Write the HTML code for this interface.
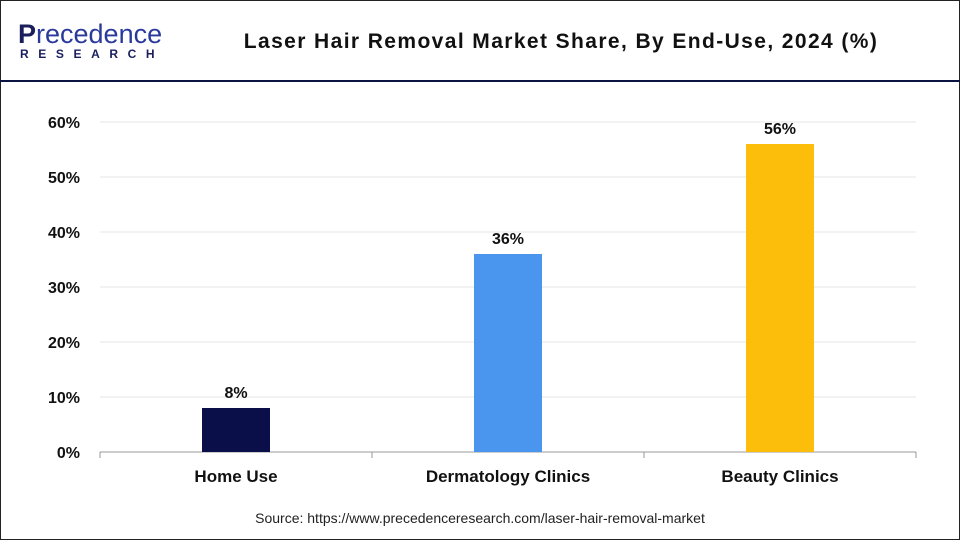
<!DOCTYPE html>
<html><head><meta charset="utf-8"><style>
body{margin:0;width:960px;height:540px;overflow:hidden;background:#fff;font-family:"Liberation Sans",sans-serif}
#frame{position:absolute;left:0;top:0;width:958px;height:538px;border:1px solid #222}
#hline{position:absolute;left:0;top:80px;width:960px;height:2px;background:#0d1340}
</style></head><body>
<div id="frame"></div>
<div id="hline"></div>
<div style="position:absolute;left:18px;top:20px;width:140px;height:45px">
<div style="position:absolute;left:0;top:0;font-size:27px;color:#1a1f5c;line-height:28px"><span style="font-weight:bold">P</span><span style="color:#2a3a9a">recedence</span></div>
<div style="position:absolute;left:2px;top:27px;font-size:12px;font-weight:bold;color:#1a1f5c;letter-spacing:9.6px">RESEARCH</div>
</div>
<div style="position:absolute;left:160px;top:30px;width:802px;text-align:center;font-size:21px;letter-spacing:1.4px;font-weight:bold;color:#111">Laser Hair Removal Market Share, By End-Use, 2024 (%)</div>
<svg id="chart" width="960" height="540" style="position:absolute;left:0;top:0"></svg>
<div style="position:absolute;left:0;top:510px;width:960px;text-align:center;font-size:14px;color:#222">Source: https://www.precedenceresearch.com/laser-hair-removal-market</div>
<script>
const categories=["Home Use","Dermatology Clinics","Beauty Clinics"];
const values=[8,36,56];
const valueLabels=["8%","36%","56%"];
const colors=["#0a0f4a","#4a96ef","#fcbe0a"];
const yTicks=[0,10,20,30,40,50,60];
const ns="http://www.w3.org/2000/svg";
const svg=document.getElementById('chart');
const x0=100,x1=916,yBase=452,pxPer=5.5;
const band=(x1-x0)/categories.length;
const y=v=>yBase-v*pxPer;
function mk(t,a){const e=document.createElementNS(ns,t);for(const k in a)e.setAttribute(k,a[k]);svg.appendChild(e);return e;}
yTicks.forEach(t=>{
 if(t>0){const g=mk('line',{x1:x0,x2:x1,y1:y(t),y2:y(t),stroke:'#e6e6e6','stroke-width':1});
 
 }
 const l=mk('text',{x:80,y:y(t)+6,'text-anchor':'end','font-size':16,'font-weight':'bold',fill:'#111','font-family':'Liberation Sans'});
 l.textContent=t+'%';
 
 
});
const ax=mk('line',{x1:x0,x2:x1,y1:yBase,y2:yBase,stroke:'#999','stroke-width':1});


for(let i=0;i<=categories.length;i++){const t=mk('line',{x1:x0+i*band,x2:x0+i*band,y1:yBase,y2:yBase+6,stroke:'#999'});
 
 }
categories.forEach((c,i)=>{
 const cx=x0+band*(i+0.5),w=68;
 const r=mk('rect',{x:cx-w/2,y:y(values[i]),width:w,height:values[i]*pxPer,fill:colors[i]});
 
 
 const v=mk('text',{x:cx,y:y(values[i])-10,'text-anchor':'middle','font-size':16,'font-weight':'bold',fill:'#111','font-family':'Liberation Sans'});
 v.textContent=valueLabels[i];
 
 
 const l=mk('text',{x:cx,y:482,'text-anchor':'middle','font-size':17,'font-weight':'bold',fill:'#111','font-family':'Liberation Sans'});
 l.textContent=c;
 
 
});
</script>
</body></html>
